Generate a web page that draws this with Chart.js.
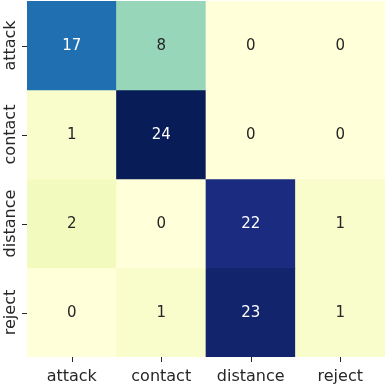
<!DOCTYPE html>
<html>
<head>
<meta charset="utf-8">
<script src="https://cdn.jsdelivr.net/npm/chart.js@4/dist/chart.umd.min.js"></script>
<style>
  html, body { margin: 0; padding: 0; background: #fff; }
  #wrap { width: 389px; height: 385px; }
</style>
</head>
<body>
<div id="wrap"><canvas id="cm"></canvas></div>
<script>
// etiquetas da matriz de confusão
const colLabels = ['attack', 'contact', 'distance', 'reject'];
const rowLabels = ['attack', 'contact', 'distance', 'reject'];
// contagens por linha (verdadeiro) x coluna (previsto)
const rowAttack = [17, 8, 0, 0];
const rowContact = [1, 24, 0, 0];
const rowDistance = [2, 0, 22, 1];
const rowReject = [0, 1, 23, 1];
const matrix = [rowAttack, rowContact, rowDistance, rowReject];
const vmax = 24;

// paleta YlGnBu (matplotlib)
const ylgnbu = ['#ffffd9', '#edf8b1', '#c7e9b4', '#7fcdbb', '#41b6c4', '#1d91c0', '#225ea8', '#253494', '#081d58'];

function hexToRgb(h) {
    return [parseInt(h.slice(1, 3), 16), parseInt(h.slice(3, 5), 16), parseInt(h.slice(5, 7), 16)];
}

function corDoValor(v) {
    const t = Math.max(0, Math.min(1, v / vmax)) * (ylgnbu.length - 1);
    const i = Math.min(Math.floor(t), ylgnbu.length - 2);
    const f = t - i;
    const a = hexToRgb(ylgnbu[i]), b = hexToRgb(ylgnbu[i + 1]);
    const c = a.map((x, k) => Math.round(x + (b[k] - x) * f));
    return 'rgb(' + c.join(',') + ')';
}

function luminancia(v) {
    const m = corDoValor(v).match(/\d+/g).map(Number).map(x => {
        x = x / 255;
        return x <= 0.03928 ? x / 12.92 : Math.pow((x + 0.055) / 1.055, 2.4);
    });
    return 0.2126 * m[0] + 0.7152 * m[1] + 0.0722 * m[2];
}

// cada linha vira um dataset de barras flutuantes [r, r+1]
const datasets = matrix.map((linha, r) => ({
    label: rowLabels[r],
    data: linha.map(() => [r, r + 1]),
    valores: linha,
    backgroundColor: linha.map(v => corDoValor(v)),
    borderWidth: 0,
    barPercentage: 1,
    categoryPercentage: 1,
    grouped: false
}));

// números nas células + rótulos e marcas dos eixos
const anotacoes = {
    id: 'anotacoes',
    afterDatasetsDraw(chart) {
        const ctx = chart.ctx;
        ctx.save();
        ctx.font = '15px "DejaVu Sans"';
        ctx.textAlign = 'center';
        ctx.textBaseline = 'alphabetic';
        chart.data.datasets.forEach((ds, r) => {
            const meta = chart.getDatasetMeta(r);
            meta.data.forEach((bar, c) => {
                const v = ds.valores[c];
                const yMid = (bar.y + bar.base) / 2;
                ctx.fillStyle = luminancia(v) > 0.408 ? '#262626' : '#ffffff';
                ctx.fillText(String(v), bar.x, yMid + 4);
            });
        });

        const xs = chart.scales.x, ys = chart.scales.y;
        ctx.strokeStyle = '#262626';
        ctx.lineWidth = 1;
        ctx.fillStyle = '#262626';
        ctx.font = '16px "DejaVu Sans"';
        colLabels.forEach((lab, i) => {
            const px = Math.round(xs.getPixelForValue(i)) + 0.5;
            ctx.beginPath();
            ctx.moveTo(px, ys.bottom);
            ctx.lineTo(px, ys.bottom + 5);
            ctx.stroke();
            ctx.fillText(lab, xs.getPixelForValue(i), ys.bottom + 24);
        });
        rowLabels.forEach((lab, i) => {
            const py = ys.getPixelForValue(i + 0.5);
            ctx.beginPath();
            ctx.moveTo(xs.left - 5, Math.round(py) + 0.5);
            ctx.lineTo(xs.left, Math.round(py) + 0.5);
            ctx.stroke();
            ctx.save();
            ctx.translate(xs.left - 12, py);
            ctx.rotate(-Math.PI / 2);
            ctx.fillText(lab, 0, 0);
            ctx.restore();
        });
        ctx.restore();
    }
};

new Chart(document.getElementById('cm'), {
    type: 'bar',
    data: { labels: colLabels, datasets: datasets },
    plugins: [anotacoes],
    options: {
        responsive: true,
        maintainAspectRatio: false,
        animation: false,
        layout: { padding: { top: 1, right: 4, left: 0, bottom: 0 } },
        plugins: { legend: { display: false }, tooltip: { enabled: false } },
        scales: {
            x: {
                grid: { display: false },
                border: { display: false },
                ticks: { display: false },
                afterFit(scale) { scale.height = 28; }
            },
            y: {
                min: 0,
                max: 4,
                reverse: true,
                grid: { display: false },
                border: { display: false },
                ticks: { display: false },
                afterFit(scale) { scale.width = 27; }
            }
        }
    }
});
</script>
</body>
</html>
